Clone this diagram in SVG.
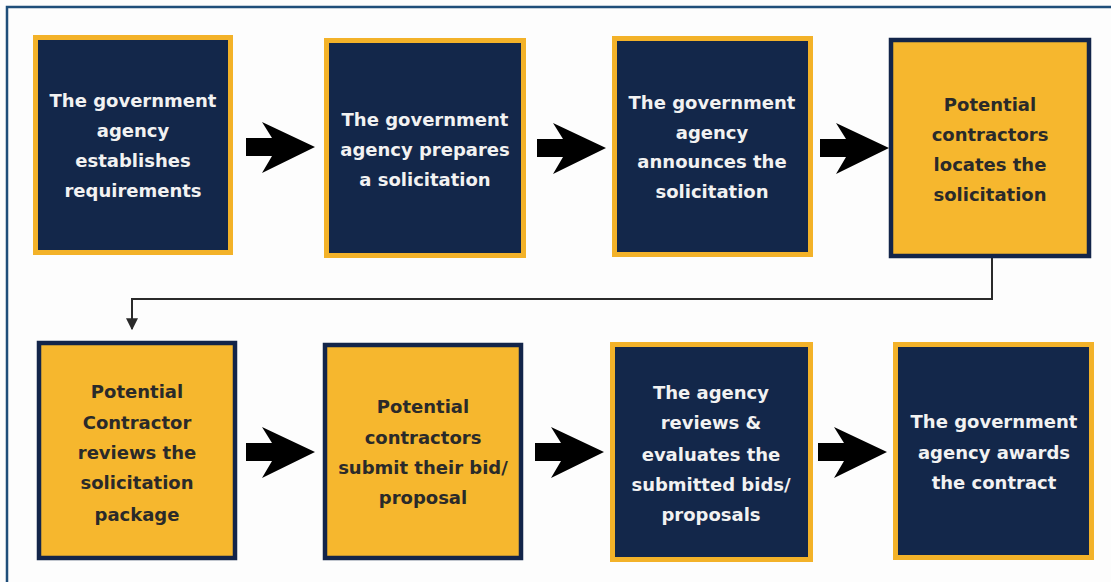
<svg xmlns="http://www.w3.org/2000/svg" width="1111" height="582" viewBox="0 0 1111 582">
  <defs>
    <style>
      .navy { fill: #13274a; stroke: #f3b229; stroke-width: 5; }
      .gold { fill: #f6b72e; stroke: #13254a; stroke-width: 4.5; }
      .lbl { font-family: "DejaVu Sans", "Liberation Sans", sans-serif; font-weight: bold; font-size: 18px; text-anchor: middle; }
      .light { fill: #f2f2f2; }
      .dark { fill: #2a2a2a; }
      .block { fill: #000; }
      .wire { fill: none; stroke: #2a2a2a; stroke-width: 2; }
    </style>
    <marker id="tip" viewBox="0 0 10 10" refX="9" refY="5" markerWidth="6" markerHeight="6" orient="auto" markerUnits="strokeWidth">
      <path d="M0,0 L10,5 L0,10 z" fill="#2a2a2a"/>
    </marker>
  </defs>

  <rect x="0" y="0" width="1111" height="582" fill="#fdfdfd"/>
  <!-- frame edges -->
  <path d="M7,582 V7 H1111" fill="none" stroke="#1f4e7a" stroke-width="2.5"/>

  <!-- row 1 -->
  <g id="n1">
    <rect class="navy" x="35.5" y="37.5" width="195" height="215"/>
    <text class="lbl light" x="133" y="107">The government</text>
    <text class="lbl light" x="133" y="137">agency</text>
    <text class="lbl light" x="133" y="167">establishes</text>
    <text class="lbl light" x="133" y="197">requirements</text>
  </g>
  <g id="n2">
    <rect class="navy" x="326.5" y="40.5" width="197" height="215"/>
    <text class="lbl light" x="425" y="126">The government</text>
    <text class="lbl light" x="425" y="156">agency prepares</text>
    <text class="lbl light" x="425" y="186">a solicitation</text>
  </g>
  <g id="n3">
    <rect class="navy" x="614.5" y="38.5" width="196" height="216"/>
    <text class="lbl light" x="712" y="109">The government</text>
    <text class="lbl light" x="712" y="139">agency</text>
    <text class="lbl light" x="712" y="168">announces the</text>
    <text class="lbl light" x="712" y="198">solicitation</text>
  </g>
  <g id="n4">
    <rect class="gold" x="891" y="40" width="198" height="216"/>
    <text class="lbl dark" x="990" y="111">Potential</text>
    <text class="lbl dark" x="990" y="141">contractors</text>
    <text class="lbl dark" x="990" y="171">locates the</text>
    <text class="lbl dark" x="990" y="201">solicitation</text>
  </g>

  <!-- row 2 -->
  <g id="n5">
    <rect class="gold" x="39" y="343" width="196" height="215"/>
    <text class="lbl dark" x="137" y="398">Potential</text>
    <text class="lbl dark" x="137" y="429">Contractor</text>
    <text class="lbl dark" x="137" y="459">reviews the</text>
    <text class="lbl dark" x="137" y="489">solicitation</text>
    <text class="lbl dark" x="137" y="521">package</text>
  </g>
  <g id="n6">
    <rect class="gold" x="325" y="345" width="196" height="213"/>
    <text class="lbl dark" x="423" y="413">Potential</text>
    <text class="lbl dark" x="423" y="444">contractors</text>
    <text class="lbl dark" x="423" y="474">submit their bid/</text>
    <text class="lbl dark" x="423" y="504">proposal</text>
  </g>
  <g id="n7">
    <rect class="navy" x="612.5" y="344.5" width="198" height="215"/>
    <text class="lbl light" x="711" y="399">The agency</text>
    <text class="lbl light" x="711" y="429">reviews &amp;</text>
    <text class="lbl light" x="711" y="461">evaluates the</text>
    <text class="lbl light" x="711" y="491">submitted bids/</text>
    <text class="lbl light" x="711" y="521">proposals</text>
  </g>
  <g id="n8">
    <rect class="navy" x="895.5" y="344.5" width="196" height="213"/>
    <text class="lbl light" x="994" y="428">The government</text>
    <text class="lbl light" x="994" y="459">agency awards</text>
    <text class="lbl light" x="994" y="489">the contract</text>
  </g>

  <!-- connectors -->
  <g id="connectors">
    <polygon class="block" points="246,138 272,138 262,122 315,147 262,173 272,156 246,156"/>
    <polygon class="block" points="537,139 563,139 553,123 606,148 553,174 563,157 537,157"/>
    <polygon class="block" points="820,139 846,139 836,123 889,148 836,174 846,157 820,157"/>
    <polygon class="block" points="246,443 272,443 262,427 315,452 262,478 272,461 246,461"/>
    <polygon class="block" points="535,443 561,443 551,427 604,452 551,478 561,461 535,461"/>
    <polygon class="block" points="818,443 844,443 834,427 887,452 834,478 844,461 818,461"/>
    <path class="wire" d="M992,258 V299 H132 V329" marker-end="url(#tip)"/>
  </g>
</svg>
